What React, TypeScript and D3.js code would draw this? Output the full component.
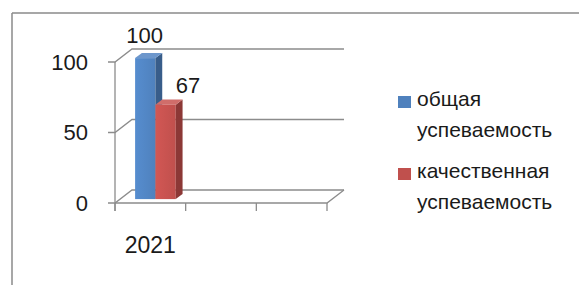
import * as d3 from "d3";
import React from "react";

const categories = ["2021", "", ""];
const seriesNames = ["общая успеваемость", "качественная успеваемость"];
const seriesLines = [
  ["общая", "успеваемость"],
  ["качественная", "успеваемость"],
];
const values2021 = [100, 67];
const yTicks = [0, 50, 100];

const frontCol = ["#4f81bd", "#c0504d"];
const sideCol = ["#385d8a", "#8c3836"];
const topCol = ["#6d97cc", "#d06d6a"];

const W = 579;
const H = 285;
const DX = 17; // depth offset of the back wall
const DY = -13;
const FONT = "'Liberation Sans', Arial, sans-serif";

const App = () => {
  const x = d3.scaleBand().domain(categories.map((c, i) => i + "")).range([115, 327]);
  const y = d3.scaleLinear().domain([0, 100]).range([203, 62]);
  const inner = d3
    .scaleBand()
    .domain(seriesNames)
    .range([15, x.bandwidth() - 15]);

  const gridCol = "#8c8c8c";
  // bars sit between 30% and 70% of the depth
  const d0 = 0.3;
  const d1 = 0.7;

  return (
    <div style={{ position: "absolute", left: 0, top: 0 }}>
      <svg width={W} height={H} style={{ display: "block" }}>
        <defs>
          {frontCol.map((c, i) => (
            <linearGradient key={i} id={"g" + i} x1="0" x2="1" y1="0" y2="0">
              <stop offset="0" stopColor={d3.color(c)!.brighter(0.25).formatHex()} />
              <stop offset="1" stopColor={c} />
            </linearGradient>
          ))}
        </defs>
        <rect x={0} y={0} width={W} height={H} fill="#fff" />
        {/* outer frame */}
        <line x1={12} y1={13} x2={W} y2={13} stroke="#8a8a8a" strokeWidth={1.5} />
        <line x1={12} y1={13} x2={12} y2={H} stroke="#8a8a8a" strokeWidth={1.5} />

        {/* back wall gridlines + side wall diagonals */}
        {yTicks.map((t) => (
          <g key={t} stroke={gridCol} strokeWidth={1.3} fill="none">
            <polyline
              points={`108,${y(t)} 115,${y(t)} ${115 + DX},${y(t) + DY} ${327 + DX},${y(t) + DY}`}
            />
          </g>
        ))}
        {/* floor */}
        <polyline
          points={`115,${y(0)} 327,${y(0)} ${327 + DX},${y(0) + DY}`}
          stroke={gridCol}
          strokeWidth={1.3}
          fill="none"
        />
        {/* y axis */}
        <line x1={115} y1={y(100)} x2={115} y2={y(0) + 8} stroke={gridCol} strokeWidth={1.3} />
        {/* category ticks */}
        {[...categories.map((c, i) => x(i + "")!), 327].map((v, i) => (
          <line key={i} x1={v} y1={y(0)} x2={v} y2={y(0) + 8} stroke={gridCol} strokeWidth={1.3} />
        ))}

        {/* y tick labels */}
        {yTicks.map((t) => (
          <text
            key={t}
            x={88}
            y={y(t)}
            dy="0.35em"
            textAnchor="end"
            fontFamily={FONT}
            fontSize={22}
            fill="#1a1a1a"
          >
            {t}
          </text>
        ))}

        {/* category labels */}
        {categories.map((c, i) => (
          <text
            key={i}
            x={x(i + "")! + x.bandwidth() / 2}
            y={253}
            textAnchor="middle"
            fontFamily={FONT}
            fontSize={23}
            fill="#1a1a1a"
          >
            {c}
          </text>
        ))}

        {/* 3D bars */}
        {seriesNames.map((s, i) => {
          const v = values2021[i];
          const ox = DX * d0;
          const oy = DY * d0;
          const ddx = DX * (d1 - d0);
          const ddy = DY * (d1 - d0);
          const xl = x("0")! + inner(s)! + ox;
          const xr = xl + inner.bandwidth();
          const yt = y(v) + oy;
          const yb = y(0) + oy;
          return (
            <g key={s}>
              <rect x={xl} y={yt} width={xr - xl} height={yb - yt} fill={`url(#g${i})`} />
              <polygon
                points={`${xr},${yt} ${xr + ddx},${yt + ddy} ${xr + ddx},${yb + ddy} ${xr},${yb}`}
                fill={sideCol[i]}
              />
              <polygon
                points={`${xl},${yt} ${xl + ddx},${yt + ddy} ${xr + ddx},${yt + ddy} ${xr},${yt}`}
                fill={topCol[i]}
              />
            </g>
          );
        })}

        {/* data labels */}
        {seriesNames.map((s, i) => {
          const cx = x("0")! + inner(s)! + inner.bandwidth() / 2 + DX * 0.5;
          return (
            <text
              key={s}
              x={i === 0 ? cx - 4 : cx + 19}
              y={i === 0 ? y(values2021[i]) - 19 : y(values2021[i]) - 16}
              textAnchor="middle"
              fontFamily={FONT}
              fontSize={22}
              fill="#1a1a1a"
            >
              {values2021[i]}
            </text>
          );
        })}

        {/* legend */}
        {seriesLines.map((lines, i) => {
          const top = i === 0 ? 96 : 168;
          return (
            <g key={i}>
              <rect x={398} y={top} width={13} height={12} fill={frontCol[i]} />
              {lines.map((l, j) => (
                <text
                  key={j}
                  x={417}
                  y={top + 10 + j * 31}
                  fontFamily={FONT}
                  fontSize={21}
                  fill="#1a1a1a"
                >
                  {l}
                </text>
              ))}
            </g>
          );
        })}
      </svg>
    </div>
  );
};

export default App;
